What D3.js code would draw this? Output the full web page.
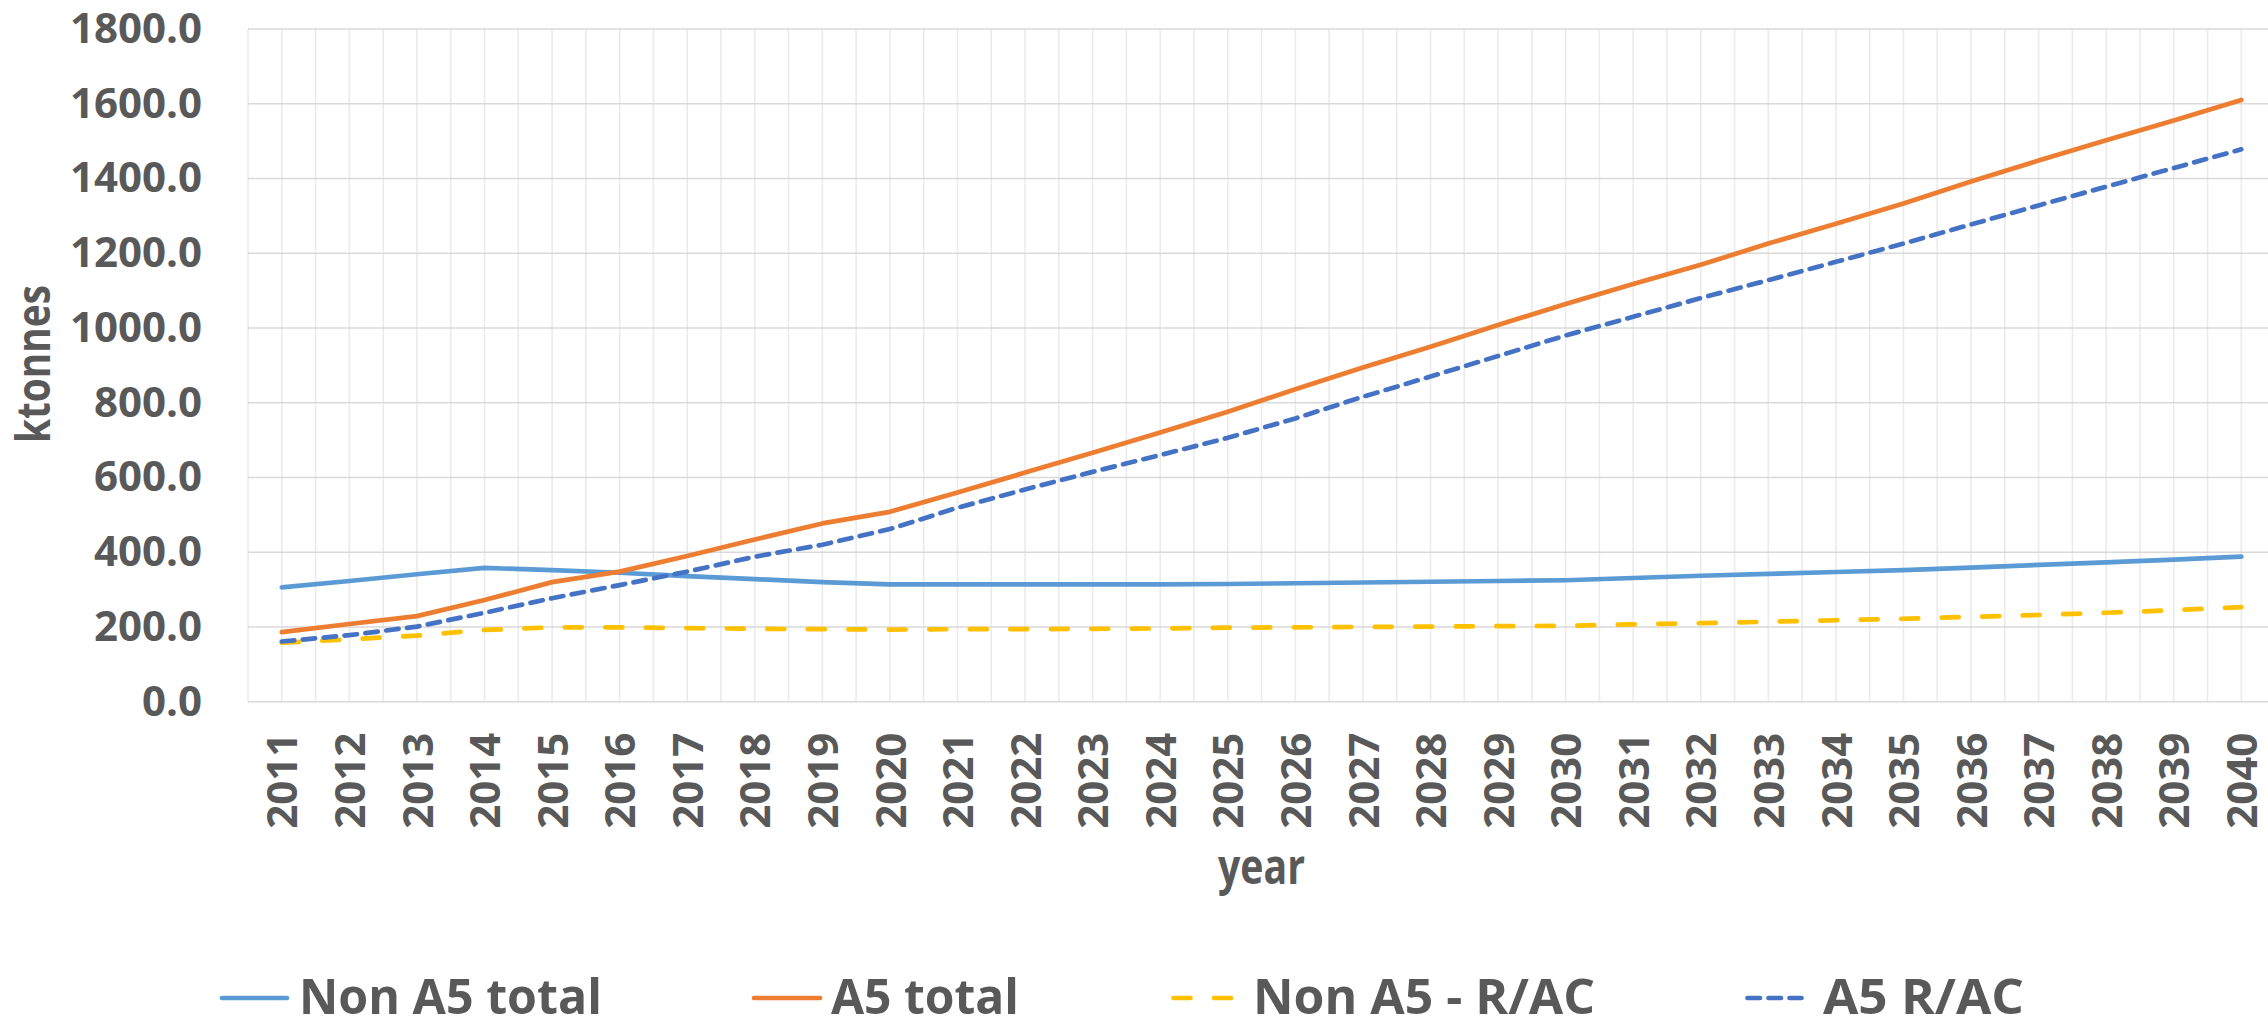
<!DOCTYPE html>
<html>
<head>
<meta charset="utf-8">
<script src="https://cdn.jsdelivr.net/npm/d3@7"></script>
<style>
    body { margin: 0; background: #fff; }
    text { font-family: "Open Sans", "Noto Sans", sans-serif; font-weight: bold; fill: #595959; }
</style>
</head>
<body>
<div id="chart"></div>
<script>
const years = [2011, 2012, 2013, 2014, 2015, 2016, 2017, 2018, 2019, 2020,
               2021, 2022, 2023, 2024, 2025, 2026, 2027, 2028, 2029, 2030,
               2031, 2032, 2033, 2034, 2035, 2036, 2037, 2038, 2039, 2040];

const nonA5Total = [306, 323, 341, 358, 352, 345, 336, 328, 320, 314,
                    314, 314, 314, 314, 315, 317, 319, 321, 323, 325,
                    331, 337, 342, 347, 352, 359, 366, 373, 380, 388];

const a5Total = [186, 208, 229, 272, 320, 348, 390, 434, 477, 508,
                 560, 613, 666, 720, 776, 836, 894, 950, 1008, 1064,
                 1118, 1169, 1226, 1279, 1333, 1392, 1448, 1502, 1555, 1610];

const nonA5RAC = [158, 167, 177, 192, 199, 199, 197, 195, 194, 193,
                  194, 194, 195, 196, 198, 199, 200, 201, 202, 203,
                  207, 210, 214, 218, 222, 227, 232, 238, 245, 253];

const a5RAC = [161, 178, 201, 238, 277, 312, 348, 388, 420, 462,
               519, 568, 615, 660, 706, 758, 816, 870, 925, 980,
               1030, 1080, 1128, 1177, 1226, 1277, 1328, 1378, 1428, 1478];

const yTicks = [0, 200, 400, 600, 800, 1000, 1200, 1400, 1600, 1800];

const seriesNames = ["Non A5 total", "A5 total", "Non A5 - R/AC", "A5 R/AC"];

const width = 2268, height = 1023;
const plotLeft = 248, plotTop = 29, plotBottom = 701.7;
const step = 67.57;

const series = [
    { name: seriesNames[0], values: nonA5Total, color: "#5B9BD5", dash: null },
    { name: seriesNames[1], values: a5Total, color: "#ED7D31", dash: null },
    { name: seriesNames[2], values: nonA5RAC, color: "#FFC000", dash: "17 23.5" },
    { name: seriesNames[3], values: a5RAC, color: "#4472C4", dash: "12.5 8.5" }
];

const svg = d3.select("#chart").append("svg")
    .attr("width", width)
    .attr("height", height);

svg.append("rect").attr("width", width).attr("height", height).attr("fill", "#fff");

// band layout like excel "between tick marks"
const xBand = d3.scaleBand()
    .domain(years)
    .range([plotLeft, plotLeft + step * years.length]);

const xScale = d3.scalePoint()
    .domain(years)
    .range([xBand(years[0]) + xBand.bandwidth() / 2, xBand(years[years.length - 1]) + xBand.bandwidth() / 2]);

const yScale = d3.scaleLinear()
    .domain([0, 1800])
    .range([plotBottom, plotTop]);

// vertical gridlines at band edges and centres
const grid = svg.append("g");
const vLines = [];
years.forEach(y => { vLines.push(xBand(y)); vLines.push(xScale(y)); });
grid.selectAll(".vgrid")
    .data(vLines.filter(x => x <= width))
    .enter().append("line")
    .attr("x1", d => d).attr("x2", d => d)
    .attr("y1", plotTop).attr("y2", plotBottom)
    .attr("stroke", "#ebebeb")
    .attr("stroke-width", 1.6);

grid.selectAll(".hgrid")
    .data(yTicks)
    .enter().append("line")
    .attr("x1", plotLeft).attr("x2", width)
    .attr("y1", d => yScale(d)).attr("y2", d => yScale(d))
    .attr("stroke", "#d9d9d9")
    .attr("stroke-width", 1.6);

// y axis
const yAxis = svg.append("g")
    .attr("transform", `translate(${plotLeft},0)`)
    .call(d3.axisLeft(yScale).tickValues(yTicks).tickFormat(d3.format(".1f")).tickSize(0).tickPadding(46));
yAxis.select(".domain").remove();
yAxis.selectAll("text")
    .style("font-size", "42px")
    .attr("fill", "#595959");

// x axis
const xAxis = svg.append("g")
    .attr("transform", `translate(0,${plotBottom})`)
    .call(d3.axisBottom(xScale).tickSize(0));
xAxis.select(".domain").remove();
xAxis.selectAll("text")
    .style("font-size", "42px")
    .attr("fill", "#595959")
    .attr("transform", "rotate(-90)")
    .attr("x", -31)
    .attr("y", 0)
    .attr("dy", "0.36em")
    .style("text-anchor", "end");

// lines
const line = d3.line()
    .x((d, i) => xScale(years[i]))
    .y(d => yScale(d));

series.forEach(s => {
    svg.append("path")
        .attr("fill", "none")
        .attr("stroke", s.color)
        .attr("stroke-width", 4.7)
        .attr("stroke-linecap", "round")
        .attr("stroke-linejoin", "round")
        .attr("stroke-dasharray", s.dash)
        .attr("d", line(s.values));
});

// axis titles
svg.append("text")
    .attr("transform", "translate(50,364) rotate(-90)")
    .attr("text-anchor", "middle")
    .attr("textLength", 158)
    .attr("lengthAdjust", "spacingAndGlyphs")
    .style("font-size", "47px")
    .text("ktonnes");

svg.append("text")
    .attr("x", 1261.5)
    .attr("y", 884)
    .attr("text-anchor", "middle")
    .attr("textLength", 87)
    .attr("lengthAdjust", "spacingAndGlyphs")
    .style("font-size", "48px")
    .text("year");

// legend
const legendPos = [
    { x1: 222, x2: 287, tx: 299, tw: 303 },
    { x1: 754, x2: 820, tx: 831, tw: 188 },
    { x1: 1173.5, x2: 1232, tx: 1253, tw: 342 },
    { x1: 1747.5, x2: 1801.5, tx: 1823, tw: 201 }
];

const legend = svg.append("g");
series.forEach((s, i) => {
    const p = legendPos[i];
    legend.append("line")
        .attr("x1", p.x1).attr("x2", p.x2)
        .attr("y1", 998).attr("y2", 998)
        .attr("stroke", s.color)
        .attr("stroke-width", 4.7)
        .attr("stroke-linecap", "round")
        .attr("stroke-dasharray", s.dash);

    legend.append("text")
        .attr("x", p.tx)
        .attr("y", 1014)
        .attr("textLength", p.tw)
        .attr("lengthAdjust", "spacingAndGlyphs")
        .style("font-size", "49px")
        .text(s.name);
});
</script>
</body>
</html>
